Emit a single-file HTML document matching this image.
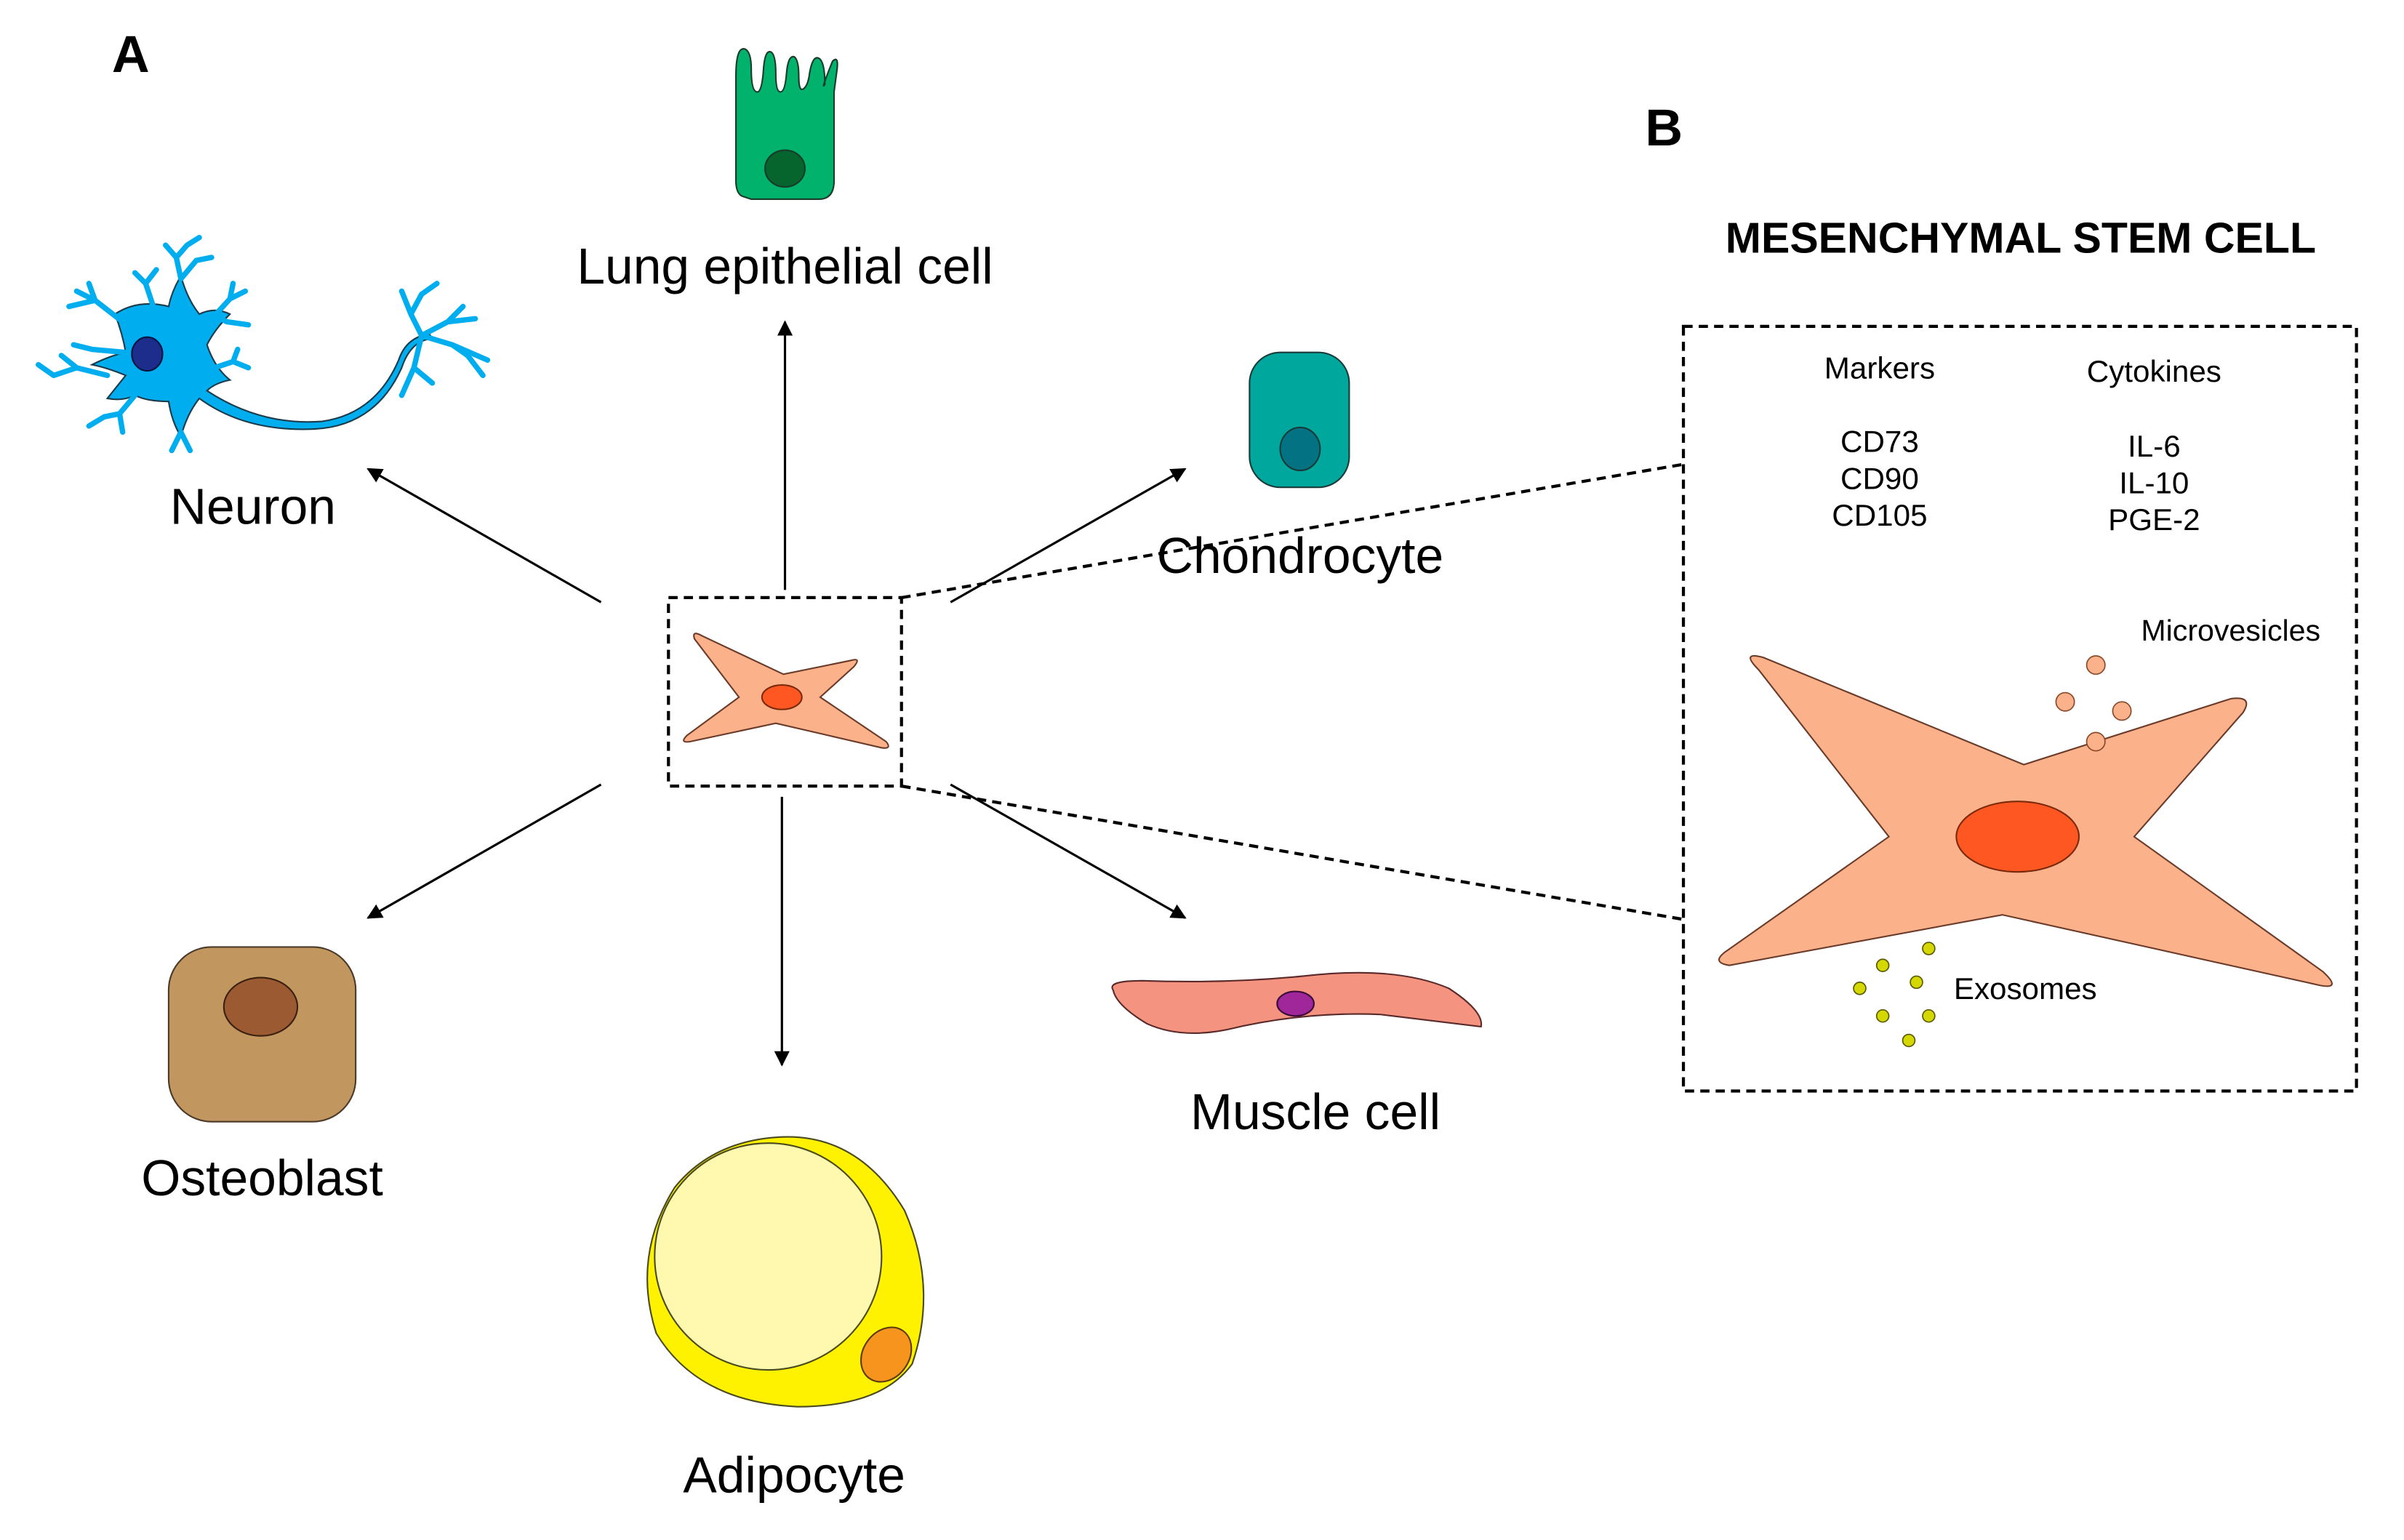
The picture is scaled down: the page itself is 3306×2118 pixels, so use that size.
<!DOCTYPE html>
<html><head><meta charset="utf-8"><style>
html,body{margin:0;padding:0;background:#fff;}
svg{display:block;}
text{font-family:"Liberation Sans",Arial,sans-serif;fill:#000;}
</style></head><body>
<svg width="3306" height="2118" viewBox="0 0 1568 1005" preserveAspectRatio="none" xmlns="http://www.w3.org/2000/svg">
<defs>
<marker id="ah" markerWidth="10" markerHeight="10" refX="9" refY="5" orient="auto" markerUnits="userSpaceOnUse">
<path d="M0,0 L10,5 L0,10 Z" fill="#000"/>
</marker>
</defs>
<rect width="1568" height="1005" fill="#fff"/>

<text x="73" y="47" font-size="34" font-weight="bold">A</text>
<text x="1073" y="95" font-size="34" font-weight="bold">B</text>

<!-- Lung epithelial cell -->
<path d="M484,128 Q480,126 480,118 L480,50 Q480,30 486,32 Q490,34 490,45 Q490,60 494,60 Q497,60 498,45 Q499,32 503,34 Q506,36 506,48 Q506,60 509,60 Q512,60 513,48 Q514,36 518,37 Q521,39 521,50 Q521,60 524,58 Q527,56 528,48 Q530,36 534,38 Q538,40 538,55 Q535,60 543,40 Q547,36 546,45 L544,60 L544,118 Q544,130 534,130 L490,130 Z" fill="#00b26b" stroke="#1a3a2a" stroke-width="1"/>
<ellipse cx="512" cy="110" rx="13" ry="12" fill="#05652d" stroke="#1a3a2a" stroke-width="1"/>
<text x="512" y="185" font-size="33" text-anchor="middle">Lung epithelial cell</text>

<!-- Neuron -->
<g stroke="#1b3a4a" stroke-width="1" fill="#00adef">
<path d="M75,205 Q90,195 110,200 Q112,190 118,180 Q122,195 130,205 Q140,200 150,205 Q140,215 135,225 Q140,240 150,248 Q140,250 135,255 Q170,278 210,275 Q245,270 260,235 Q265,220 280,218 L282,221 Q268,222 262,240 Q245,278 205,280 Q160,282 130,260 Q122,270 118,285 Q112,275 110,262 Q96,262 88,258 Q80,262 70,260 Q78,250 82,245 Q70,240 60,238 Q72,232 82,230 Q80,218 75,205 Z"/>
</g>
<g stroke="#00adef" stroke-width="3.5" fill="none" stroke-linecap="round">
<path d="M100,200 L95,185 L88,178 M95,185 L102,176"/>
<path d="M80,210 L62,196 L50,190 M62,196 L58,185 M62,196 L45,200"/>
<path d="M118,182 L115,168 L108,160 M115,168 L122,160 L130,155 M118,182 L128,170 L138,168"/>
<path d="M140,206 L150,195 L152,185 M150,195 L160,190 M140,206 L148,210 L162,212"/>
<path d="M140,240 L152,236 L162,240 M152,236 L155,228"/>
<path d="M70,245 L50,240 L35,245 M50,240 L40,232 M35,245 L25,238"/>
<path d="M82,230 L60,228 L48,225"/>
<path d="M88,258 L78,270 L68,272 M78,270 L80,282 M68,272 L58,278"/>
<path d="M118,282 L112,294 M118,282 L124,294"/>
<path d="M275,219 L268,205 L262,190 M268,205 L275,192 L285,185 M275,219 L292,210 L302,200 M292,210 L310,208 M275,219 L295,225 L318,235 M295,225 L305,232 L315,245 M275,219 L270,240 L262,258 M270,240 L282,250"/>
</g>
<ellipse cx="96" cy="231" rx="10" ry="11" fill="#1c2d8c" stroke="#0a1440" stroke-width="1"/>
<text x="165" y="342" font-size="33" text-anchor="middle">Neuron</text>

<!-- Chondrocyte -->
<rect x="815" y="230" width="65" height="88" rx="20" fill="#00a79d" stroke="#1a3a3a" stroke-width="1"/>
<ellipse cx="848" cy="293" rx="13" ry="14" fill="#037383" stroke="#1a3a3a" stroke-width="1"/>
<text x="848" y="374" font-size="33" text-anchor="middle">Chondrocyte</text>

<!-- Dashed connectors to B -->
<path d="M588,390 L1098,303 M588,513 L1098,600" stroke="#000" stroke-width="2" stroke-dasharray="6,4" fill="none"/>
<rect x="436" y="390" width="152" height="123" fill="none" stroke="#000" stroke-width="2" stroke-dasharray="6,4"/>

<!-- Small MSC -->
<path d="M453,417 Q451,411 458,415 L511,440 L555,431 Q562,429 557,435 L535,455 L578,484 Q582,489 575,488 L506,472 L450,484 Q443,485 448,480 L482,455 Z" fill="#fbb28a" stroke="#6b3b2a" stroke-width="1"/>
<ellipse cx="510" cy="455" rx="13" ry="8" fill="#ff5722" stroke="#7a2a0a" stroke-width="1"/>

<!-- Arrows -->
<g stroke="#000" stroke-width="1.5" fill="none" marker-end="url(#ah)">
<line x1="392" y1="393" x2="240" y2="306"/>
<line x1="512" y1="385" x2="512" y2="210"/>
<line x1="620" y1="393" x2="773" y2="306"/>
<line x1="392" y1="512" x2="240" y2="599"/>
<line x1="510" y1="520" x2="510" y2="695"/>
<line x1="620" y1="512" x2="773" y2="599"/>
</g>

<!-- Osteoblast -->
<rect x="110" y="618" width="122" height="114" rx="28" fill="#c1965f" stroke="#4a3a2a" stroke-width="1"/>
<ellipse cx="170" cy="657" rx="24" ry="19" fill="#9b5a32" stroke="#3a2010" stroke-width="1"/>
<text x="171" y="780" font-size="33" text-anchor="middle">Osteoblast</text>

<!-- Adipocyte -->
<path d="M510,742 Q560,740 590,790 Q612,840 595,890 Q575,918 520,918 Q455,915 428,870 Q412,820 440,775 Q465,744 510,742 Z" fill="#fff200" stroke="#4a4a20" stroke-width="1"/>
<circle cx="501" cy="820" r="74" fill="#fff9b0" stroke="#4a4a20" stroke-width="1"/>
<ellipse cx="578" cy="884" rx="15" ry="19" transform="rotate(35 578 884)" fill="#f7941d" stroke="#5a3a10" stroke-width="1"/>
<text x="518" y="974" font-size="33" text-anchor="middle">Adipocyte</text>

<!-- Muscle cell -->
<path d="M726,646 Q722,640 745,640 Q800,642 850,637 Q910,630 945,645 Q968,660 966,670 Q950,668 900,662 Q850,660 800,672 Q770,678 748,668 Q728,656 726,646 Z" fill="#f4937f" stroke="#5a2a2a" stroke-width="1"/>
<ellipse cx="845" cy="655" rx="12" ry="8" fill="#a0279a" stroke="#3a0a3a" stroke-width="1"/>
<text x="858" y="737" font-size="33" text-anchor="middle">Muscle cell</text>

<!-- Panel B -->
<text x="1318" y="165" font-size="28" font-weight="bold" text-anchor="middle">MESENCHYMAL STEM CELL</text>
<rect x="1098" y="213" width="439" height="499" fill="none" stroke="#000" stroke-width="2" stroke-dasharray="6,4"/>
<g font-size="20" text-anchor="middle">
<text x="1226" y="247">Markers</text>
<text x="1226" y="295">CD73</text>
<text x="1226" y="319">CD90</text>
<text x="1226" y="343">CD105</text>
<text x="1405" y="249">Cytokines</text>
<text x="1405" y="298">IL-6</text>
<text x="1405" y="322">IL-10</text>
<text x="1405" y="346">PGE-2</text>
</g>
<text x="1455" y="418" font-size="19.5" text-anchor="middle">Microvesicles</text>

<path d="M1147,437 Q1135,425 1150,429 L1320,499 L1455,456 Q1470,454 1463,465 L1392,546 L1515,634 Q1528,646 1513,643 L1306,597 L1128,630 Q1115,628 1127,620 L1232,546 Z" fill="#fbb28a" stroke="#6b3b2a" stroke-width="1"/>
<ellipse cx="1316" cy="546" rx="40" ry="23" fill="#ff5722" stroke="#7a2a0a" stroke-width="1"/>

<g fill="#fbb28a" stroke="#8a4a2a" stroke-width="0.8">
<circle cx="1367" cy="434" r="6"/>
<circle cx="1347" cy="458" r="6"/>
<circle cx="1384" cy="464" r="6"/>
<circle cx="1367" cy="484" r="6"/>
</g>
<g fill="#d4d800" stroke="#5a5a00" stroke-width="0.8">
<circle cx="1258" cy="619" r="4"/>
<circle cx="1228" cy="630" r="4"/>
<circle cx="1250" cy="641" r="4"/>
<circle cx="1213" cy="645" r="4"/>
<circle cx="1228" cy="663" r="4"/>
<circle cx="1258" cy="663" r="4"/>
<circle cx="1245" cy="679" r="4"/>
</g>
<text x="1321" y="652" font-size="20" text-anchor="middle">Exosomes</text>
</svg>
</body></html>
